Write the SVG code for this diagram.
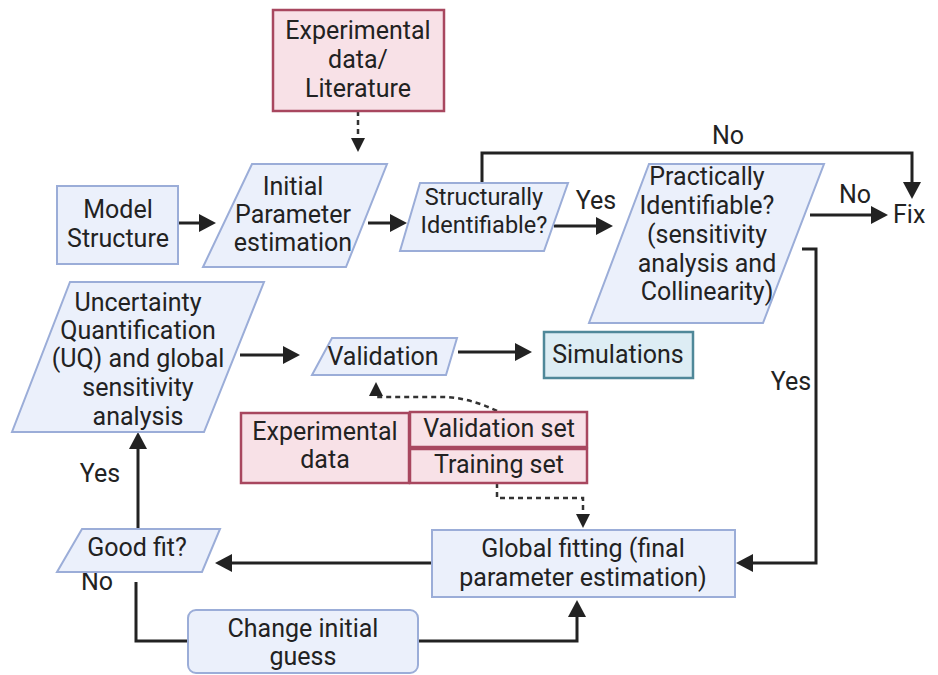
<svg xmlns="http://www.w3.org/2000/svg" width="938" height="675" viewBox="0 0 938 675">
<style>
text{font-family:Roboto,"Liberation Sans",sans-serif;font-size:25px;fill:#222;text-anchor:middle}
.sm{font-size:23.5px}
.blue{fill:#ebf0fb;stroke:#9badd8;stroke-width:2}
.pink{fill:#f8e1e7;stroke:#a8475f;stroke-width:2.5}
.teal{fill:#ddedf4;stroke:#4f8899;stroke-width:2.5}
.c{fill:none;stroke:#222;stroke-width:3}
.d{fill:none;stroke:#333;stroke-width:2.5;stroke-dasharray:5 4}
</style>
<defs>
<marker id="ah" markerUnits="userSpaceOnUse" markerWidth="17" markerHeight="18" refX="2" refY="9" orient="auto"><path d="M0,0 L17,9 L0,18 z" fill="#222"/></marker>
<marker id="as" markerUnits="userSpaceOnUse" markerWidth="14" markerHeight="14" refX="2" refY="7" orient="auto"><path d="M0,0 L14,7 L0,14 z" fill="#222"/></marker>
</defs>
<g id="connectors">
<path class="d" d="M358,111 V140" marker-end="url(#as)"/>
<path class="c" d="M178,223 H201" marker-end="url(#ah)"/>
<path class="c" d="M368,223 H392" marker-end="url(#ah)"/>
<path class="c" d="M554,226 H598" marker-end="url(#ah)"/>
<path class="c" d="M482,183 V153 H912 V184" marker-end="url(#ah)"/>
<path class="c" d="M810,215 H873" marker-end="url(#ah)"/>
<path class="c" d="M802,249 H816 V563 H751" marker-end="url(#ah)"/>
<path class="c" d="M432,563 H230" marker-end="url(#ah)"/>
<path class="c" d="M138,529 V447" marker-end="url(#ah)"/>
<path class="c" d="M240,355 H285" marker-end="url(#ah)"/>
<path class="c" d="M458,352 H517" marker-end="url(#ah)"/>
<path class="d" d="M497,411 Q470,398 445,397 H376 V394" marker-end="url(#as)"/>
<path class="d" d="M497,483 V498 H583 V516" marker-end="url(#as)"/>
<path class="c" d="M136,582 V641 H188"/>
<path class="c" d="M418,641 H577 V615" marker-end="url(#ah)"/>
<text x="728" y="144">No</text>
<text x="596" y="209">Yes</text>
<text x="855" y="203">No</text>
<text x="791" y="390">Yes</text>
<text x="100" y="482">Yes</text>
<text x="97" y="590">No</text>
</g>
<g id="literature"><rect class="pink" x="273" y="10" width="171" height="101"/>
<text x="358" y="39">Experimental</text><text x="358" y="68">data/</text><text x="358" y="97">Literature</text></g>
<g id="model"><rect class="blue" x="57" y="186" width="121" height="78"/>
<text x="118" y="218">Model</text><text x="118" y="247">Structure</text></g>
<g id="initial"><polygon class="blue" points="252,164 387,164 346,267 203,267"/>
<text x="293" y="195">Initial</text><text x="293" y="223">Parameter</text><text x="293" y="251">estimation</text></g>
<g id="structural"><polygon class="blue" points="420,183 568,183 544,251 400,251"/>
<text class="sm" x="484" y="205">Structurally</text><text class="sm" x="484" y="233">Identifiable?</text></g>
<g id="practical"><polygon class="blue" points="649,164 824,164 763,323 589,323"/>
<text x="707" y="185">Practically</text><text x="707" y="214">Identifiable?</text><text x="707" y="243">(sensitivity</text><text x="707" y="272">analysis and</text><text x="707" y="300">Collinearity)</text></g>
<g id="fix"><text x="893" y="223" style="text-anchor:start">Fix</text></g>
<g id="uq"><polygon class="blue" points="70,282 264,282 204,432 12,432"/>
<text x="138" y="311">Uncertainty</text><text x="138" y="339">Quantification</text><text x="138" y="367">(UQ) and global</text><text x="138" y="396">sensitivity</text><text x="138" y="425">analysis</text></g>
<g id="validation"><polygon class="blue" points="332,338 457,338 446,375 312,375"/>
<text x="383" y="365">Validation</text></g>
<g id="simulations"><rect class="teal" x="544" y="332" width="149" height="46"/>
<text x="618" y="363">Simulations</text></g>
<g id="expdata"><rect class="pink" x="241" y="413" width="168" height="70"/>
<text x="325" y="440">Experimental</text><text x="325" y="468">data</text></g>
<g id="valset"><rect class="pink" x="410" y="412" width="177" height="35"/>
<text x="499" y="437">Validation set</text></g>
<g id="trainset"><rect class="pink" x="410" y="449" width="177" height="34"/>
<text x="499" y="473">Training set</text></g>
<g id="global"><rect class="blue" x="432" y="530" width="303" height="67"/>
<text x="583" y="557">Global fitting (final</text><text x="583" y="586">parameter estimation)</text></g>
<g id="goodfit"><polygon class="blue" points="82,529 220,529 202,572 57,572"/>
<text x="137" y="556">Good fit?</text></g>
<g id="change"><rect class="blue" x="188" y="610" width="230" height="63" rx="8"/>
<text x="303" y="637">Change initial</text><text x="303" y="665">guess</text></g>
</svg>
